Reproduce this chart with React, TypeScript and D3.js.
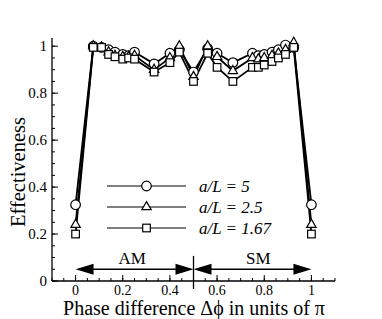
import React from "react";
import * as d3 from "d3";

// phase difference (units of pi)
const phase = [0, 0.075, 0.11, 0.14, 0.167, 0.2, 0.225, 0.25, 0.333, 0.4, 0.44, 0.5, 0.56, 0.6, 0.667, 0.75, 0.775, 0.8, 0.833, 0.86, 0.89, 0.925, 1];

const eff5 = [0.325, 1.0, 0.995, 0.985, 0.975, 0.965, 0.96, 0.975, 0.925, 0.97, 0.985, 0.89, 0.99, 0.97, 0.93, 0.97, 0.96, 0.965, 0.975, 0.985, 1.005, 0.995, 0.325];
const eff25 = [0.24, 1.0, 0.995, 0.975, 0.96, 0.955, 0.955, 0.96, 0.9, 0.95, 1.0, 0.87, 1.0, 0.955, 0.895, 0.95, 0.945, 0.95, 0.96, 0.97, 0.985, 1.015, 0.24];
const eff167 = [0.2, 0.995, 0.995, 0.965, 0.955, 0.945, 0.95, 0.945, 0.89, 0.93, 0.975, 0.85, 0.97, 0.91, 0.85, 0.91, 0.91, 0.92, 0.935, 0.95, 0.965, 0.995, 0.2];

const seriesNames = ["a/L = 5", "a/L = 2.5", "a/L = 1.67"];
const seriesMarkers = ["circle", "triangle", "square"];
const seriesValues = [eff5, eff25, eff167];

const xTicks = [0, 0.2, 0.4, 0.6, 0.8, 1];
const yTicks = [0, 0.2, 0.4, 0.6, 0.8, 1];

const W = 382;
const H = 319;
const serif = "'Liberation Serif', 'DejaVu Serif', serif";

const x = d3.scaleLinear().domain([-0.1, 1.1]).range([52, 335]);
const y = d3.scaleLinear().domain([0, 1.035]).range([281, 38]);

const Marker = ({ kind, cx, cy }: { kind: string; cx: number; cy: number }) => {
  if (kind === "circle")
    return <circle cx={cx} cy={cy} r={4.8} fill="white" stroke="black" strokeWidth={1.2} />;
  if (kind === "triangle") {
    const s = d3.symbol(d3.symbolTriangle, 38)();
    return <path d={s || ""} transform={`translate(${cx},${cy})`} fill="white" stroke="black" strokeWidth={1.2} />;
  }
  return <rect x={cx - 3.8} y={cy - 3.8} width={7.6} height={7.6} fill="white" stroke="black" strokeWidth={1.2} />;
};

const Arrow = ({ from, to, yv }: { from: number; to: number; yv: number }) => {
  const x0 = x(from);
  const x1 = x(to);
  const yy = y(yv);
  const L = 18;
  const hw = 5.5;
  return (
    <g>
      <line x1={x0 + L - 2} x2={x1 - L + 2} y1={yy} y2={yy} stroke="black" strokeWidth={1.4} />
      <path d={`M${x0},${yy} L${x0 + L},${yy - hw} L${x0 + L},${yy + hw} Z`} fill="black" />
      <path d={`M${x1},${yy} L${x1 - L},${yy - hw} L${x1 - L},${yy + hw} Z`} fill="black" />
    </g>
  );
};

const App = () => {
  const line = d3
    .line<number>()
    .x((_, i) => x(phase[i]))
    .y(d => y(d));

  const xMinor = d3.range(-0.1, 1.1001, 0.05).map(v => +v.toFixed(2));
  const yMinor = d3.range(0, 1.0001, 0.05).map(v => +v.toFixed(2));

  return (
    <svg width={W} height={H} style={{ position: "absolute", left: 0, top: 0 }} fontFamily={serif}>
      <rect width={W} height={H} fill="white" />

      {/* axes */}
      <line x1={x(-0.1)} x2={x(1.1)} y1={y(0)} y2={y(0)} stroke="black" strokeWidth={1.3} />
      <line x1={x(-0.1)} x2={x(-0.1)} y1={y(0)} y2={y(1.035)} stroke="black" strokeWidth={1.3} />
      {xMinor.map(v => (
        <line key={"xm" + v} x1={x(v)} x2={x(v)} y1={y(0)} y2={y(0) - 3} stroke="black" strokeWidth={1} />
      ))}
      {xTicks.map(v => (
        <g key={"xt" + v}>
          <line x1={x(v)} x2={x(v)} y1={y(0)} y2={y(0) - 6} stroke="black" strokeWidth={1} />
          <text x={x(v)} y={y(0) + 14} textAnchor="middle" fontSize={14}>{d3.format("~g")(v)}</text>
        </g>
      ))}
      {yMinor.map(v => (
        <line key={"ym" + v} x1={x(-0.1)} x2={x(-0.1) + 3} y1={y(v)} y2={y(v)} stroke="black" strokeWidth={1} />
      ))}
      {yTicks.map(v => (
        <g key={"yt" + v}>
          <line x1={x(-0.1)} x2={x(-0.1) + 6} y1={y(v)} y2={y(v)} stroke="black" strokeWidth={1} />
          <text x={x(-0.1) - 5} y={y(v) + 5} textAnchor="end" fontSize={15}>{d3.format("~g")(v)}</text>
        </g>
      ))}

      <text x={194} y={315} textAnchor="middle" fontSize={20}>
        Phase difference Δϕ in units of π
      </text>
      <text transform={`translate(25,172) rotate(-90)`} textAnchor="middle" fontSize={20.5}>
        Effectiveness
      </text>

      {/* AM / SM annotation */}
      <line x1={x(0.5)} x2={x(0.5)} y1={y(0.107)} y2={y(-0.034)} stroke="black" strokeWidth={1.3} />
      <Arrow from={0} to={0.5} yv={0.05} />
      <Arrow from={0.5} to={1} yv={0.05} />
      <text x={x(0.24)} y={264} textAnchor="middle" fontSize={17}>AM</text>
      <text x={x(0.775)} y={264} textAnchor="middle" fontSize={17}>SM</text>

      {/* series */}
      {seriesValues.map((vals, s) => (
        <path key={"l" + s} d={line(vals) || ""} fill="none" stroke="black" strokeWidth={1.8} />
      ))}
      {seriesValues.map((vals, s) =>
        vals.map((v, i) => <Marker key={`m${s}-${i}`} kind={seriesMarkers[s]} cx={x(phase[i])} cy={y(v)} />)
      )}

      {/* legend */}
      {seriesNames.map((name, s) => {
        const ly = 186 + s * 21;
        return (
          <g key={"lg" + s}>
            <line x1={107} x2={186} y1={ly} y2={ly} stroke="black" strokeWidth={1.2} />
            <Marker kind={seriesMarkers[s]} cx={146.5} cy={ly} />
            <text x={199} y={ly + 6} fontSize={17} fontStyle="italic">{name}</text>
          </g>
        );
      })}
    </svg>
  );
};

export default App;
